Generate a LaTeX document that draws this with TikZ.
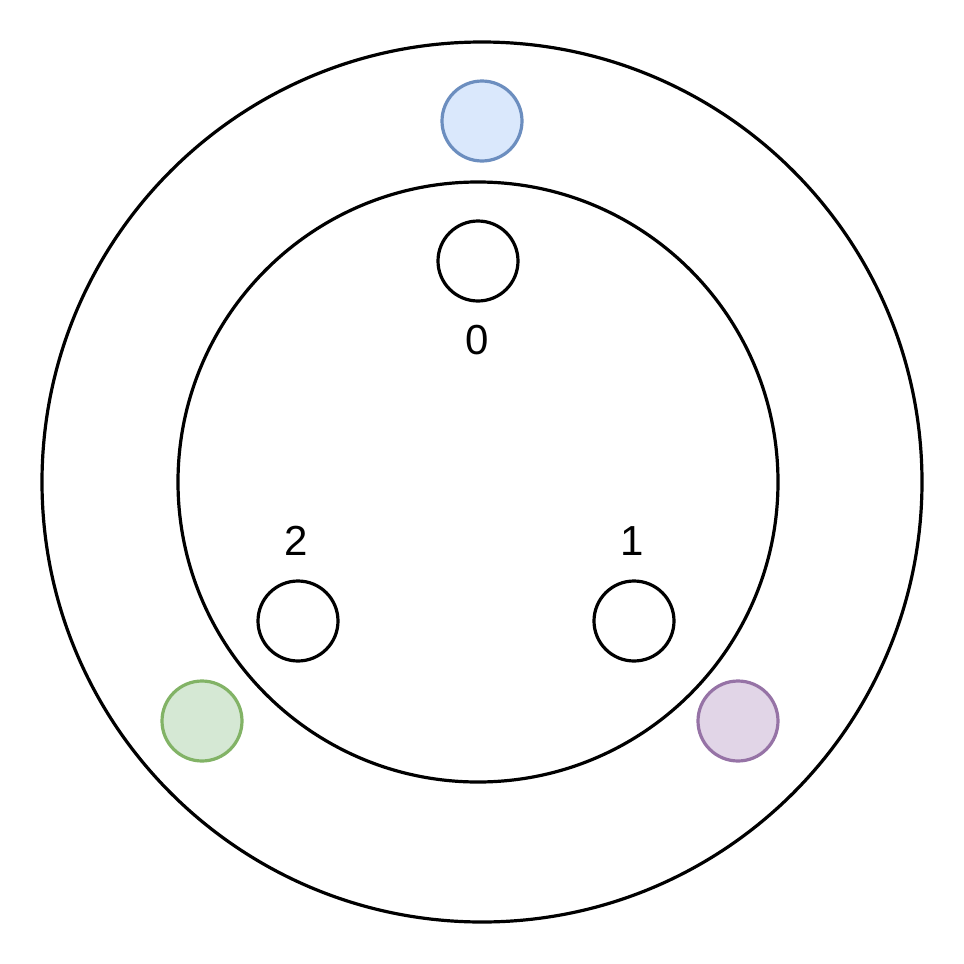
\documentclass[tikz,border=0pt]{standalone}
\usepackage{fontspec}
\setmainfont{Liberation Sans}
\definecolor{bluefill}{HTML}{DAE8FC}\definecolor{bluedraw}{HTML}{6C8EBF}
\definecolor{greenfill}{HTML}{D5E8D4}\definecolor{greendraw}{HTML}{82B366}
\definecolor{purplefill}{HTML}{E1D5E7}\definecolor{purpledraw}{HTML}{9673A6}
\begin{document}
\begin{tikzpicture}[x=1pt,y=-1pt,
  ring/.style={circle,draw=black,line width=3.2pt,inner sep=0pt},
  slot/.style={circle,draw=black,line width=3.2pt,minimum size=80pt,inner sep=0pt},
  dot/.style={circle,line width=3.2pt,minimum size=80pt,inner sep=0pt},
  lbl/.style={font=\fontsize{42}{48}\selectfont,inner sep=0pt}]
\useasboundingbox (0,0) rectangle (964,964);
\node[ring,minimum size=880pt] (outer) at (482,482) {};
\node[ring,minimum size=600pt] (inner) at (478,482) {};
\node[slot] (s0) at (478,261) {};
\node[slot] (s1) at (634,621) {};
\node[slot] (s2) at (298,621) {};
\node[lbl] (l0) at (477,340) {0};
\node[lbl] (l1) at (632,541) {1};
\node[lbl] (l2) at (296,541) {2};
\node[dot,draw=bluedraw,fill=bluefill] (cb) at (482,121) {};
\node[dot,draw=greendraw,fill=greenfill] (cg) at (202,721) {};
\node[dot,draw=purpledraw,fill=purplefill] (cp) at (738,721) {};
\end{tikzpicture}
\end{document}
